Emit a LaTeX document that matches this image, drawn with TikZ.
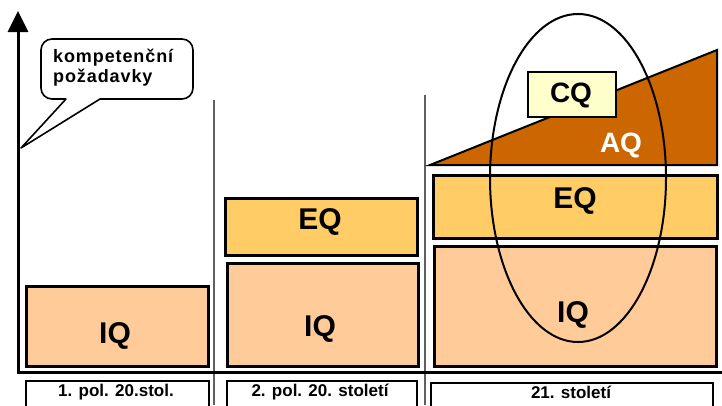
\documentclass[tikz,border=0pt]{standalone}
\usepackage{fontspec}
\setmainfont{Liberation Sans}
\usetikzlibrary{arrows.meta}
\definecolor{peach}{HTML}{FFCC99}
\definecolor{eqgold}{HTML}{FFCC66}
\definecolor{aqbrown}{HTML}{CC6600}
\definecolor{cqyellow}{HTML}{FFFFCC}
\definecolor{divgray}{HTML}{606060}
\tikzset{
  qbox/.style={draw=black, line width=2.5pt, inner sep=0pt, anchor=north west},
  qtext/.style={font=\bfseries\fontsize{30}{30}\selectfont, inner sep=0pt},
  lbox/.style={draw=black, line width=1.6pt, fill=white, inner sep=0pt, anchor=north west},
  ltext/.style={font=\bfseries\fontsize{17}{17}\selectfont, inner sep=0pt},
  divider/.style={draw=divgray, line width=1.4pt},
}
\begin{document}
\begin{tikzpicture}[x=1pt,y=-1pt]
\useasboundingbox (0,0) rectangle (722,405);
\fill[white] (0,0) rectangle (722,405);

% dividers
\coordinate (d1t) at (214,100); \coordinate (d1b) at (214,405);
\coordinate (d2t) at (425,95);  \coordinate (d2b) at (425,405);
\draw[divider] (d1t) -- (d1b);
\draw[divider] (d2t) -- (d2b);

% column 1
\node[qbox, fill=peach, minimum width=182pt, minimum height=80pt] (iq1) at (25,285) {};
\node[qtext] (iq1t) at (115,336) {IQ};

% column 2
\node[qbox, fill=eqgold, minimum width=192pt, minimum height=57pt] (eq2) at (224,197) {};
\node[qtext] (eq2t) at (320,222) {EQ};
\node[qbox, fill=peach, minimum width=191pt, minimum height=103pt] (iq2) at (226,262) {};
\node[qtext] (iq2t) at (320,329) {IQ};

% column 3
\coordinate (aql) at (430,165);
\coordinate (aqt) at (717,50);
\coordinate (aqr) at (717,165);
\filldraw[fill=aqbrown, draw=black, line width=2pt, line join=miter] (aql) -- (aqt) -- (aqr) -- cycle;
\node[qtext, text=white, font=\bfseries\fontsize{28}{28}\selectfont] (aqtext) at (621,145) {AQ};
\node[qbox, fill=cqyellow, minimum width=88pt, minimum height=45pt, line width=2pt] (cq) at (527,71) {};
\node[qtext, font=\bfseries\fontsize{28}{28}\selectfont] (cqt) at (571,95) {CQ};
\node[qbox, fill=eqgold, minimum width=284pt, minimum height=63pt] (eq3) at (432,174) {};
\node[qtext] (eq3t) at (575,201) {EQ};
\node[qbox, fill=peach, minimum width=282pt, minimum height=120pt] (iq3) at (433,245) {};
\node[qtext] (iq3t) at (573,315) {IQ};

% ellipse
\draw[line width=2pt] (578,178) ellipse [x radius=88pt, y radius=164pt];

% baseline
\coordinate (bl) at (17,372); \coordinate (br) at (722,372);
\draw[line width=3pt] (bl) -- (br);

% axis
\coordinate (ax0) at (18,373); \coordinate (ax1) at (18,11);
\draw[line width=3pt, -{Triangle[width=20pt,length=21pt]}] (ax0) -- (ax1);

% callout
\coordinate (tip) at (21,148);
\draw[line width=1.6pt, fill=white, line join=round]
  (66,99) -- (tip) -- (100,99) [rounded corners=11pt] -- (193,99) -- (193,39) -- (41,39) -- (41,99) [sharp corners] -- cycle;
\node[font=\bfseries\fontsize{18}{20}\selectfont\addfontfeature{LetterSpace=5}, align=left, anchor=north west, inner sep=0pt] (callout) at (53,49)
  {kompetenční\\požadavky};

% bottom labels
\node[lbox, minimum width=183pt, minimum height=40pt] (l1) at (25,380) {};
\node[ltext] (l1t) at (116,392) {1. pol. 20.stol.};
\node[lbox, minimum width=190pt, minimum height=40pt] (l2) at (226,380) {};
\node[ltext] (l2t) at (320,392) {2. pol. 20. století};
\node[lbox, minimum width=282pt, minimum height=40pt] (l3) at (430,382) {};
\node[ltext] (l3t) at (571,392) {21. století};
\end{tikzpicture}
\end{document}
